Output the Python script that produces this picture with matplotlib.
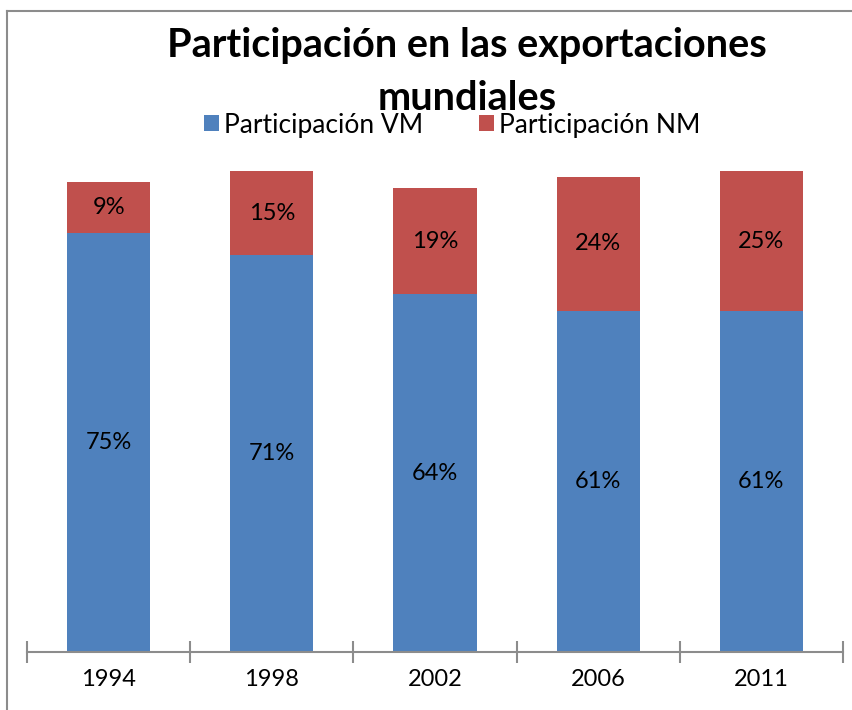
import numpy as np
import matplotlib.pyplot as plt
from matplotlib.lines import Line2D

# Datos
anios = ['1994', '1998', '2002', '2006', '2011']
part_vm = [75, 71, 64, 61, 61]
part_nm = [9, 15, 19, 24, 25]

azul = '#4F81BD'
rojo = '#C0504D'

plt.rcParams['font.family'] = ['Lato', 'DejaVu Sans']

fig = plt.figure(figsize=(8.53, 7.10), dpi=100)
ax = fig.add_axes([27/853, 58/710, 816/853, 502/710])

x = np.arange(len(anios))
b1 = ax.bar(x, part_vm, width=0.51, color=azul, label='Participación VM')
b2 = ax.bar(x, part_nm, width=0.51, bottom=part_vm, color=rojo, label='Participación NM')

ax.bar_label(b1, labels=[f'{v}%' for v in part_vm], label_type='center', fontsize=17)
ax.bar_label(b2, labels=[f'{v}%' for v in part_nm], label_type='center', fontsize=17)

ax.set_xlim(-0.5, len(anios) - 0.5)
ax.set_ylim(0, 89.8)
for s in ['top', 'right', 'left']:
    ax.spines[s].set_visible(False)
ax.spines['bottom'].set_color('#8C8C8C')
ax.spines['bottom'].set_linewidth(1.5)
ax.set_yticks([])
ax.set_xticks(x)
ax.set_xticklabels(anios, fontsize=17)
ax.tick_params(axis='x', length=0, pad=12)
ax.set_xticks(np.arange(len(anios) + 1) - 0.5, minor=True)
ax.tick_params(axis='x', which='minor', length=16, direction='inout', color='#8C8C8C', width=1.5)

fig.text(467/853, 1 - 46/710, 'Participación en las exportaciones', ha='center', va='center',
         fontsize=28.5, fontweight='bold')
fig.text(467/853, 1 - 98/710, 'mundiales', ha='center', va='center', fontsize=28.5, fontweight='bold')

fig.legend(handles=[b1, b2], loc='center', bbox_to_anchor=(452/853, 1 - 125/710), ncol=2,
           frameon=False, fontsize=19, handlelength=0.57, handleheight=0.57,
           handletextpad=0.2, columnspacing=2.1)

# marco
fig.add_artist(Line2D([7/853, 7/853], [0, 1 - 11/710], color='#8C8C8C', lw=1.5))
fig.add_artist(Line2D([7/853, 1], [1 - 11/710, 1 - 11/710], color='#8C8C8C', lw=1.5))

fig.savefig('out.png', dpi=100)
